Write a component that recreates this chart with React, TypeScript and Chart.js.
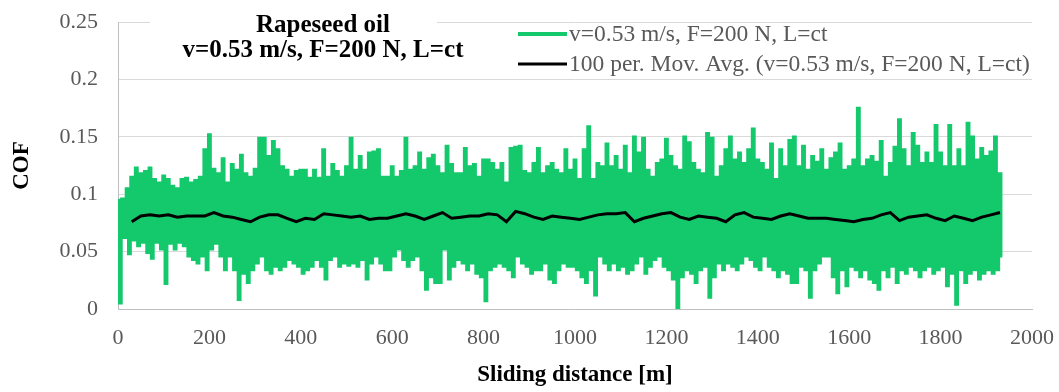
import React, { useEffect, useRef } from 'react';
import { Chart, registerables } from 'chart.js';

Chart.register(...registerables);

// ---- Text ----
const SERIES_LABEL = 'v=0.53 m/s, F=200 N, L=ct';
const AVG_LABEL = '100 per. Mov. Avg. (v=0.53 m/s, F=200 N, L=ct)';
const TITLE_LINES = ['Rapeseed oil', 'v=0.53 m/s, F=200 N, L=ct'];
const X_TITLE = 'Sliding distance [m]';
const Y_TITLE = 'COF';

// ---- Axes ----
const X_TICKS = [0, 200, 400, 600, 800, 1000, 1200, 1400, 1600, 1800, 2000];
const Y_TICKS = [0, 0.05, 0.1, 0.15, 0.2, 0.25];
const Y_TICK_LABELS = ['0', '0.05', '0.1', '0.15', '0.2', '0.25'];

// ---- COF signal, read as peak / trough per 10 m of sliding distance ----
const COF_START_M = 0;
const COF_STEP_M = 10;
const COF_PEAKS = [
  0.095, 0.096, 0.105, 0.115, 0.123, 0.118, 0.120, 0.123, 0.113, 0.110,
  0.116, 0.113, 0.107, 0.105, 0.113, 0.114, 0.110, 0.112, 0.115, 0.139,
  0.152, 0.122, 0.118, 0.131, 0.110, 0.126, 0.121, 0.134, 0.118, 0.115,
  0.122, 0.149, 0.149, 0.133, 0.146, 0.139, 0.124, 0.121, 0.115, 0.120,
  0.121, 0.121, 0.114, 0.121, 0.114, 0.139, 0.115, 0.126, 0.120, 0.115,
  0.124, 0.149, 0.121, 0.133, 0.121, 0.136, 0.137, 0.139, 0.115, 0.115,
  0.124, 0.115, 0.120, 0.149, 0.121, 0.124, 0.136, 0.121, 0.131, 0.134,
  0.124, 0.118, 0.142, 0.126, 0.118, 0.118, 0.140, 0.124, 0.126, 0.115,
  0.130, 0.130, 0.127, 0.121, 0.127, 0.110, 0.140, 0.141, 0.142, 0.120,
  0.118, 0.127, 0.140, 0.118, 0.124, 0.127, 0.121, 0.118, 0.139,
  0.121,
  0.130, 0.113, 0.139, 0.159, 0.113, 0.127, 0.124, 0.144, 0.124, 0.133,
  0.121, 0.142, 0.118, 0.150, 0.136, 0.149, 0.121, 0.115, 0.127, 0.130,
  0.148, 0.133, 0.124, 0.121, 0.150, 0.145, 0.127, 0.121, 0.118, 0.153,
  0.149, 0.115, 0.124, 0.139, 0.150, 0.130, 0.136, 0.127, 0.139, 0.157,
  0.130, 0.127, 0.121, 0.144, 0.113, 0.139, 0.124, 0.147,
  0.150, 0.124,
  0.142, 0.121, 0.133, 0.128, 0.139, 0.121, 0.131, 0.136, 0.144, 0.121,
  0.124, 0.130, 0.175, 0.124, 0.130, 0.133, 0.128, 0.146, 0.115, 0.127,
  0.141, 0.165, 0.139, 0.124, 0.153, 0.142, 0.127, 0.136, 0.127, 0.160,
  0.136, 0.124, 0.160, 0.124, 0.139, 0.124, 0.162, 0.150, 0.130, 0.140,
  0.133, 0.137, 0.150, 0.118,
];
const COF_TROUGHS = [
  0.005, 0.062, 0.048, 0.060, 0.055, 0.058, 0.049, 0.044, 0.058, 0.052,
  0.022, 0.057, 0.052, 0.058, 0.055, 0.046, 0.043, 0.040, 0.046, 0.034,
  0.052, 0.057, 0.046, 0.034, 0.046, 0.034, 0.008, 0.031, 0.023, 0.034,
  0.040, 0.046, 0.034, 0.031, 0.037, 0.034, 0.037, 0.043, 0.040, 0.037,
  0.031, 0.034, 0.037, 0.043, 0.037, 0.026, 0.043, 0.046, 0.037, 0.040,
  0.038, 0.040, 0.037, 0.043, 0.026, 0.040, 0.046, 0.040, 0.034, 0.034,
  0.046, 0.052, 0.043, 0.037, 0.043, 0.046, 0.034, 0.017, 0.028, 0.023,
  0.023, 0.052, 0.026, 0.037, 0.043, 0.040, 0.034, 0.040, 0.031, 0.028,
  0.007, 0.034, 0.037, 0.040, 0.037, 0.034, 0.028, 0.046, 0.040, 0.037,
  0.031, 0.034, 0.034, 0.040, 0.026, 0.023, 0.034, 0.040, 0.037,
  0.037,
  0.034, 0.028, 0.023, 0.034, 0.012, 0.046, 0.040, 0.034, 0.040, 0.034,
  0.037, 0.031, 0.034, 0.040, 0.046, 0.031, 0.037, 0.043, 0.046, 0.037,
  0.034, 0.026, 0.001, 0.028, 0.034, 0.031, 0.023, 0.034, 0.037, 0.010,
  0.028, 0.040, 0.034, 0.040, 0.037, 0.034, 0.040, 0.046, 0.043, 0.037,
  0.034, 0.046, 0.037, 0.034, 0.028, 0.034, 0.031, 0.023,
  0.023, 0.037,
  0.034, 0.010, 0.034, 0.040, 0.046, 0.046, 0.028, 0.014, 0.034, 0.020,
  0.037, 0.034, 0.028, 0.034, 0.026, 0.023, 0.017, 0.034, 0.028, 0.037,
  0.023, 0.034, 0.031, 0.037, 0.034, 0.028, 0.034, 0.037, 0.031, 0.034,
  0.037, 0.020, 0.031, 0.004, 0.034, 0.023, 0.031, 0.034, 0.026, 0.031,
  0.034, 0.031, 0.034, 0.046,
];

// ---- 100 per. moving average, read every 20 m ----
const AVG_START_M = 30;
const AVG_STEP_M = 20;
const AVG_COF = [
  0.076, 0.081, 0.082, 0.081, 0.082, 0.080, 0.081, 0.081, 0.081, 0.084, 0.081, 0.080,
  0.078, 0.076, 0.080, 0.082, 0.082, 0.079, 0.076, 0.079, 0.078, 0.083, 0.082, 0.081,
  0.080, 0.081, 0.078, 0.079, 0.079, 0.081, 0.083, 0.081, 0.078, 0.081, 0.084, 0.079,
  0.080, 0.081, 0.081, 0.083, 0.082, 0.076, 0.085, 0.083, 0.080, 0.078, 0.081, 0.080,
  0.079, 0.078, 0.080, 0.082, 0.083, 0.083, 0.084, 0.076, 0.079, 0.081, 0.083, 0.084,
  0.080, 0.078, 0.081, 0.080, 0.079, 0.076, 0.082, 0.084, 0.080, 0.079, 0.078, 0.081,
  0.083,
  0.081, 0.079, 0.079, 0.079, 0.078, 0.077, 0.076, 0.078, 0.079, 0.082, 0.084, 0.077,
  0.080, 0.081, 0.082, 0.079, 0.077, 0.081, 0.079, 0.077, 0.080, 0.082, 0.084,
];

const GREEN = '#14c96c';
const FONT = '"Liberation Serif", "Times New Roman", serif';
const TICK_COLOR = '#595959';

const overlayPlugin = {
  id: 'overlay',
  afterDraw(chart: any) {
    const ctx = chart.ctx;
    ctx.save();
    // chart title with white box
    ctx.fillStyle = '#ffffff';
    ctx.fillRect(150, 12, 287, 22);
    ctx.fillStyle = '#000000';
    ctx.font = `bold 25px ${FONT}`;
    ctx.textAlign = 'center';
    ctx.textBaseline = 'alphabetic';
    ctx.fillText(TITLE_LINES[0], 323, 32);
    ctx.fillText(TITLE_LINES[1], 323, 57);
    // legend
    const rows = [
      { ds: chart.data.datasets[0], y: 34, w: 4 },
      { ds: chart.data.datasets[1], y: 64, w: 3 },
    ];
    ctx.font = `23.5px ${FONT}`;
    ctx.textAlign = 'left';
    ctx.textBaseline = 'middle';
    rows.forEach((r) => {
      ctx.strokeStyle = r.ds.borderColor;
      ctx.lineWidth = r.w;
      ctx.beginPath();
      ctx.moveTo(518, r.y);
      ctx.lineTo(567, r.y);
      ctx.stroke();
      ctx.fillStyle = TICK_COLOR;
      ctx.fillText(r.ds.label, 569, r.y + 1);
    });
    ctx.restore();
  },
};

export default function App() {
  const ref = useRef<HTMLCanvasElement>(null);

  useEffect(() => {
    if (!ref.current) return;
    const cof: { x: number; y: number }[] = [];
    COF_PEAKS.forEach((p, i) => {
      const d = COF_START_M + i * COF_STEP_M;
      cof.push({ x: d, y: p });
      cof.push({ x: d + COF_STEP_M / 2, y: COF_TROUGHS[i] });
    });
    const avg = AVG_COF.map((v, i) => ({ x: AVG_START_M + i * AVG_STEP_M, y: v }));

    const chart = new Chart(ref.current, {
      type: 'line',
      data: {
        datasets: [
          {
            label: SERIES_LABEL,
            data: cof,
            borderColor: GREEN,
            borderWidth: 2.6,
            pointRadius: 0,
            stepped: 'middle',
            order: 2,
          },
          {
            label: AVG_LABEL,
            data: avg,
            borderColor: '#000000',
            borderWidth: 3,
            pointRadius: 0,
            tension: 0,
            order: 1,
          },
        ],
      },
      options: {
        responsive: false,
        animation: false,
        layout: { autoPadding: false, padding: { left: 0, top: 22, right: 27, bottom: 0 } },
        plugins: {
          legend: { display: false },
          title: { display: false },
          tooltip: { enabled: false },
        },
        scales: {
          x: {
            type: 'linear',
            min: 0,
            max: 2000,
            afterBuildTicks: (scale: any) => {
              scale.ticks = X_TICKS.map((v) => ({ value: v }));
            },
            afterFit: (scale: any) => {
              scale.height = 83;
              scale.paddingLeft = 0;
              scale.paddingRight = 0;
            },
            grid: { display: false, drawTicks: false },
            border: { display: true, color: '#bfbfbf', width: 1 },
            ticks: {
              color: TICK_COLOR,
              font: { family: FONT, size: 22 },
              padding: 16,
              maxRotation: 0,
              autoSkip: false,
              callback: (v: any) => String(v),
            },
            title: {
              display: true,
              text: X_TITLE,
              color: '#000000',
              font: { family: FONT, size: 23, weight: 'bold' },
              padding: { top: 0, bottom: 3 },
            },
          },
          y: {
            type: 'linear',
            min: 0,
            max: 0.25,
            afterBuildTicks: (scale: any) => {
              scale.ticks = Y_TICKS.map((v) => ({ value: v }));
            },
            afterFit: (scale: any) => {
              scale.width = 118;
              scale.paddingTop = 0;
              scale.paddingBottom = 0;
            },
            grid: { color: '#d9d9d9', lineWidth: 1, drawTicks: false },
            border: { display: true, color: '#bfbfbf', width: 1 },
            ticks: {
              color: TICK_COLOR,
              font: { family: FONT, size: 22 },
              padding: 20,
              autoSkip: false,
              callback: (_v: any, i: number) => Y_TICK_LABELS[i],
            },
            title: {
              display: true,
              text: Y_TITLE,
              color: '#000000',
              font: { family: FONT, size: 23, weight: 'bold' },
              padding: { top: 8, bottom: 0 },
            },
          },
        },
      },
      plugins: [overlayPlugin],
    } as any);
    return () => chart.destroy();
  }, []);

  return (
    <div style={{ position: 'absolute', left: 0, top: 0, width: 1059, height: 392, background: '#fff' }}>
      <canvas ref={ref} width={1059} height={392} style={{ display: 'block' }} />
    </div>
  );
}
